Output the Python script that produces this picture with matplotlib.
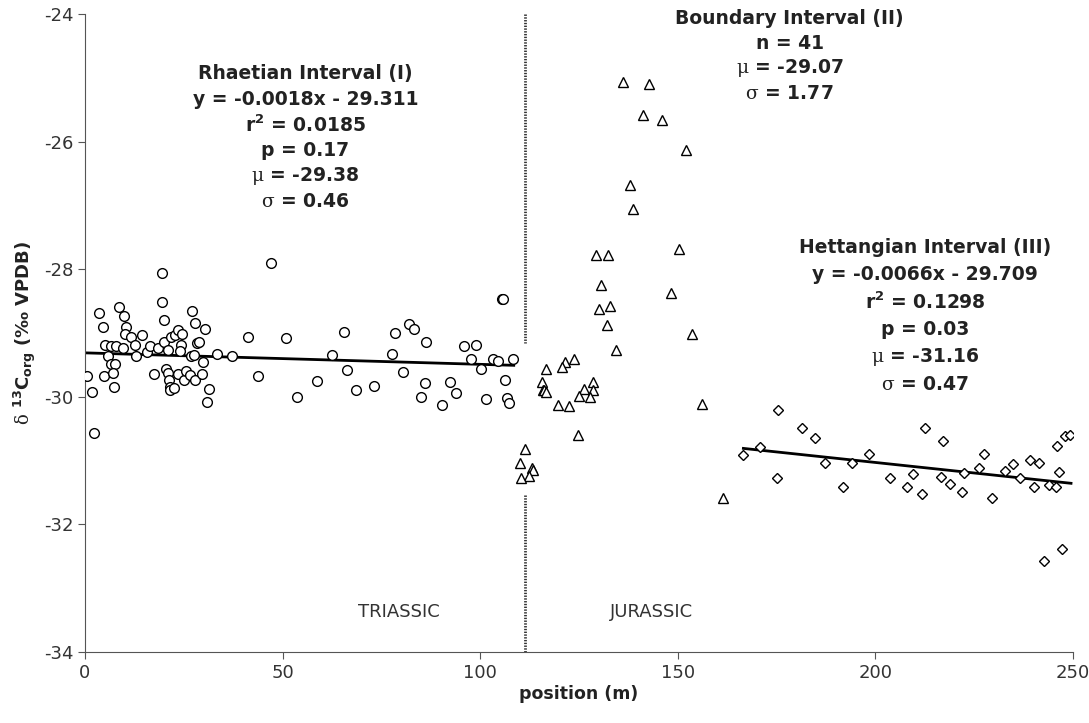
import matplotlib.pyplot as plt

plt.rcParams['font.family'] = ['DejaVu Sans']
plt.rcParams['axes.unicode_minus'] = False
plt.rcParams['mathtext.fontset'] = 'custom'
plt.rcParams['mathtext.rm'] = 'DejaVu Serif'
plt.rcParams['mathtext.bf'] = 'DejaVu Sans:bold'

# Rhaetian interval (I) - circles
rh_x = [0.6, 1.7, 2.3, 3.6, 4.6, 4.9, 5.2, 5.8, 6.6, 6.6, 7.6, 7.2, 7.4, 7.8, 8.5, 9.9,
        10.5, 10.1, 9.7, 11.6, 12.7, 13.0, 14.5, 15.6, 16.4, 17.5, 18.4, 19.4, 19.4, 20.0,
        20.0, 21.1, 20.4, 20.9, 21.3, 21.5, 21.5, 22.6, 21.8, 22.9, 23.6, 24.5, 24.3, 24.0,
        23.6, 25.0, 25.5, 26.6, 27.0, 27.8, 26.8, 27.7, 27.8, 28.4, 28.9, 29.5, 29.9, 30.4,
        30.8, 31.4, 33.3, 37.1, 41.3, 43.7, 47.0, 50.8, 53.7, 58.6, 62.4, 65.5, 66.2, 68.5,
        73.1, 77.7, 78.4, 80.5, 82.0, 83.3, 86.4, 86.0, 85.0, 90.3, 92.4, 93.8, 95.9, 98.9,
        97.7, 100.2, 101.4, 103.2, 104.4, 105.4, 105.8, 106.3, 106.9, 107.3, 108.4]
rh_y = [-29.68, -29.92, -30.57, -28.68, -28.91, -29.68, -29.19, -29.36, -29.21, -29.49,
        -29.49, -29.62, -29.84, -29.21, -28.60, -28.73, -28.90, -29.02, -29.24, -29.07,
        -29.19, -29.36, -29.03, -29.29, -29.20, -29.65, -29.23, -28.06, -28.51, -28.79,
        -29.14, -29.26, -29.56, -29.63, -29.74, -29.84, -29.89, -29.86, -29.07, -29.03,
        -28.95, -29.02, -29.19, -29.28, -29.65, -29.74, -29.60, -29.66, -28.66, -28.84,
        -29.36, -29.34, -29.73, -29.16, -29.14, -29.64, -29.45, -28.94, -30.08, -29.87,
        -29.33, -29.36, -29.06, -29.67, -27.91, -29.08, -30.01, -29.76, -29.34, -28.98,
        -29.58, -29.90, -29.83, -29.33, -29.00, -29.61, -28.86, -28.94, -29.14, -29.79,
        -30.00, -30.13, -29.77, -29.94, -29.21, -29.19, -29.40, -29.56, -30.03, -29.40,
        -29.44, -28.47, -28.47, -29.73, -30.02, -30.09, -29.40]

# Boundary interval (II) - triangles
bd_x = [136.2, 142.8, 141.3, 145.9, 152.2, 137.9, 138.6, 150.3, 129.3, 132.4, 130.7, 148.3,
        130.1, 132.8, 132.0, 153.7, 134.4, 123.8, 121.5, 120.6, 116.6, 115.6, 115.8, 116.2,
        116.6, 128.6, 126.3, 128.6, 125.0, 127.8, 119.8, 122.5, 156.2, 124.8, 111.3, 110.0,
        113.0, 113.4, 112.3, 110.3, 161.5]
bd_y = [-25.06, -25.10, -25.58, -25.66, -26.13, -26.68, -27.05, -27.68, -27.78, -27.78,
        -28.25, -28.38, -28.63, -28.57, -28.87, -29.02, -29.26, -29.41, -29.45, -29.54,
        -29.57, -29.77, -29.89, -29.90, -29.92, -29.77, -29.88, -29.89, -29.98, -30.00,
        -30.13, -30.14, -30.12, -30.60, -30.82, -31.04, -31.12, -31.14, -31.24, -31.28,
        -31.58]

# Hettangian interval (III) - diamonds
ht_x = [166.6, 170.8, 175.2, 175.4, 181.5, 184.7, 187.2, 191.7, 194.2, 198.5, 203.7, 207.9,
        209.4, 211.9, 212.5, 217.2, 216.5, 218.9, 221.8, 222.5, 226.2, 227.5, 229.6, 232.8,
        234.9, 236.6, 239.1, 241.4, 240.1, 243.9, 245.6, 246.5, 245.9, 248.0, 249.2, 242.7,
        247.1]
ht_y = [-30.91, -30.78, -31.28, -30.21, -30.49, -30.64, -31.04, -31.42, -31.03, -30.89,
        -31.28, -31.41, -31.21, -31.52, -30.49, -30.69, -31.25, -31.37, -31.49, -31.19,
        -31.11, -30.89, -31.58, -31.16, -31.06, -31.27, -30.99, -31.04, -31.41, -31.39,
        -31.41, -31.18, -30.77, -30.61, -30.60, -32.57, -32.39]

# regression fits
rh_fit = [-0.0018, -29.311]
rh_range = [0, 108.5]
ht_fit = [-0.0066, -29.709]
ht_range = [166.6, 249.5]

boundary_x = 111.3

rh_text = ['Rhaetian Interval (I)', 'y = -0.0018x - 29.311', 'r$^{\\mathbf{2}}$ = 0.0185',
           'p = 0.17', '$\\mathrm{\\mu}$ = -29.38', '$\\mathrm{\\sigma}$ = 0.46']
bd_text = ['Boundary Interval (II)', 'n = 41', '$\\mathrm{\\mu}$ = -29.07',
           '$\\mathrm{\\sigma}$ = 1.77']
ht_text = ['Hettangian Interval (III)', 'y = -0.0066x - 29.709', 'r$^{\\mathbf{2}}$ = 0.1298',
           'p = 0.03', '$\\mathrm{\\mu}$ = -31.16', '$\\mathrm{\\sigma}$ = 0.47']

fig = plt.figure(figsize=(10.89, 7.23), dpi=100)
ax = fig.add_axes([0.078, 0.0982, 0.9073, 0.8824])

ax.plot(rh_x, rh_y, 'o', ms=7, mfc='white', mec='black', mew=1.0, zorder=3)
ax.plot(bd_x, bd_y, '^', ms=7, mfc='white', mec='black', mew=1.0, zorder=3)
ax.plot(ht_x, ht_y, 'D', ms=5, mfc='white', mec='black', mew=1.0, zorder=3)

for fit, rng in [(rh_fit, rh_range), (ht_fit, ht_range)]:
    ax.plot(rng, [fit[0] * v + fit[1] for v in rng], color='black', lw=2, zorder=2)

ax.plot([boundary_x, boundary_x], [-24, -29.16], color='#333333', lw=2,
        linestyle=(0, (0.5, 0.5)))
ax.plot([boundary_x, boundary_x], [-31.54, -34], color='#333333', lw=2,
        linestyle=(0, (0.5, 0.5)))

def block(x, y, lines, dy=0.40):
    for i, s in enumerate(lines):
        ax.text(x, y - i * dy, s, ha='center', va='center', fontsize=13.5,
                fontweight='bold', color='#222222')

block(55.8, -24.94, rh_text)
block(178.3, -24.07, bd_text, dy=0.39)
block(212.6, -27.66, ht_text, dy=0.43)

ax.text(79.5, -33.37, 'TRIASSIC', ha='center', va='center', fontsize=13, color='#333333')
ax.text(143.3, -33.37, 'JURASSIC', ha='center', va='center', fontsize=13, color='#333333')

ax.set_xlim(0, 250)
ax.set_ylim(-34, -24)
ax.set_xticks([0, 50, 100, 150, 200, 250])
ax.set_yticks([-34, -32, -30, -28, -26, -24])
for s in ['top', 'right']:
    ax.spines[s].set_visible(False)
for s in ['left', 'bottom']:
    ax.spines[s].set_color('#555555')
ax.tick_params(direction='out', length=5, color='#555555', labelcolor='#333333',
               labelsize=13)
ax.set_xlabel('position (m)', fontsize=12.5, fontweight='bold', color='#222222',
              labelpad=2)
ax.set_ylabel('$\\mathrm{\\delta}$ $^{\\mathbf{13}}\\mathbf{C}_{\\mathbf{org}}$ (‰ VPDB)',
              fontsize=13, fontweight='bold', color='#222222')

fig.savefig('out.png', dpi=100)
